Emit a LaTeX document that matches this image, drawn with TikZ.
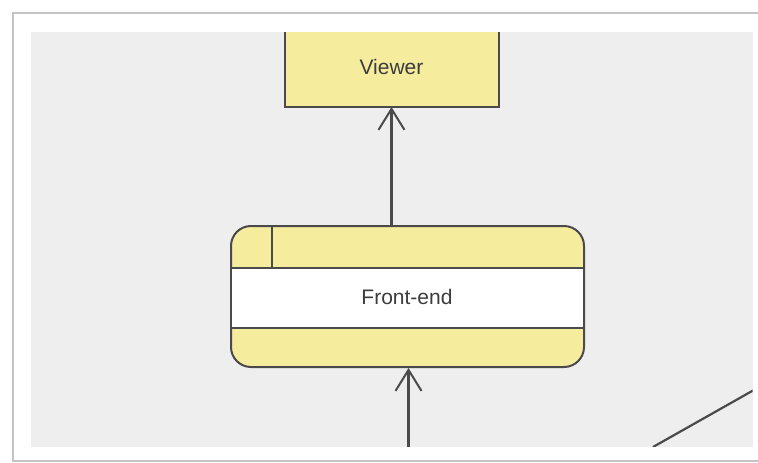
\documentclass[tikz,border=0pt]{standalone}
\usepackage{fontspec}
\setmainfont{Liberation Sans}
\usetikzlibrary{arrows.meta}
\definecolor{canvas}{HTML}{EEEEEE}
\definecolor{framegray}{HTML}{C4C4C4}
\definecolor{boxfill}{HTML}{F5EC9E}
\definecolor{edge}{HTML}{4A4A4A}
\definecolor{labeltext}{HTML}{3C3C3C}
\tikzset{
  boxline/.style={draw=edge, line width=2pt},
  flow/.style={draw=edge, line width=2.2pt, -{Straight Barb[length=21pt,width=26pt,line width=2pt]}},
  lbl/.style={text=labeltext, font=\fontsize{21}{24}\selectfont, inner sep=0pt}
}
\begin{document}
\begin{tikzpicture}[x=1pt,y=-1pt]
  \useasboundingbox (0,0) rectangle (758,463);
  \fill[white] (0,0) rectangle (758,463);
  % page frame
  \draw[framegray, line width=1.8pt] (758,13) -- (13,13) -- (13,461) -- (758,461);
  % drawing canvas
  \fill[canvas] (31,32) rectangle (752.5,446.5);
  \begin{scope}
    \clip (31,32) rectangle (752.5,446.5);
    % Viewer box (top edge runs beyond the canvas)
    \path[boxline, fill=boxfill] (285,20) rectangle (498.5,106.5);
    \node[lbl] (viewer) at (391.5,67) {Viewer};
    \coordinate (viewerbot) at (391.5,107);
    % Front-end component
    \path[boxline, fill=boxfill, rounded corners=20pt] (231,226) rectangle (584,367);
    \fill[white] (232,267.5) rectangle (583,327.5);
    \draw[boxline] (231,267.5) -- (584,267.5);
    \draw[boxline] (231,327.5) -- (584,327.5);
    \draw[boxline] (271.5,226) -- (271.5,267.5);
    \node[lbl] (frontend) at (407,297) {Front-end};
    \coordinate (fetop) at (391.5,225);
    \coordinate (febot) at (408.5,368);
    \coordinate (inlet) at (408.5,450);
    \draw[flow] (fetop) -- (viewerbot);
    \draw[flow] (inlet) -- (febot);
    % line leaving the canvas at the lower right
    \coordinate (diagA) at (653,447);
    \coordinate (diagB) at (753,390.5);
    \draw[edge, line width=2.2pt] (diagA) -- (diagB);
  \end{scope}
\end{tikzpicture}
\end{document}
